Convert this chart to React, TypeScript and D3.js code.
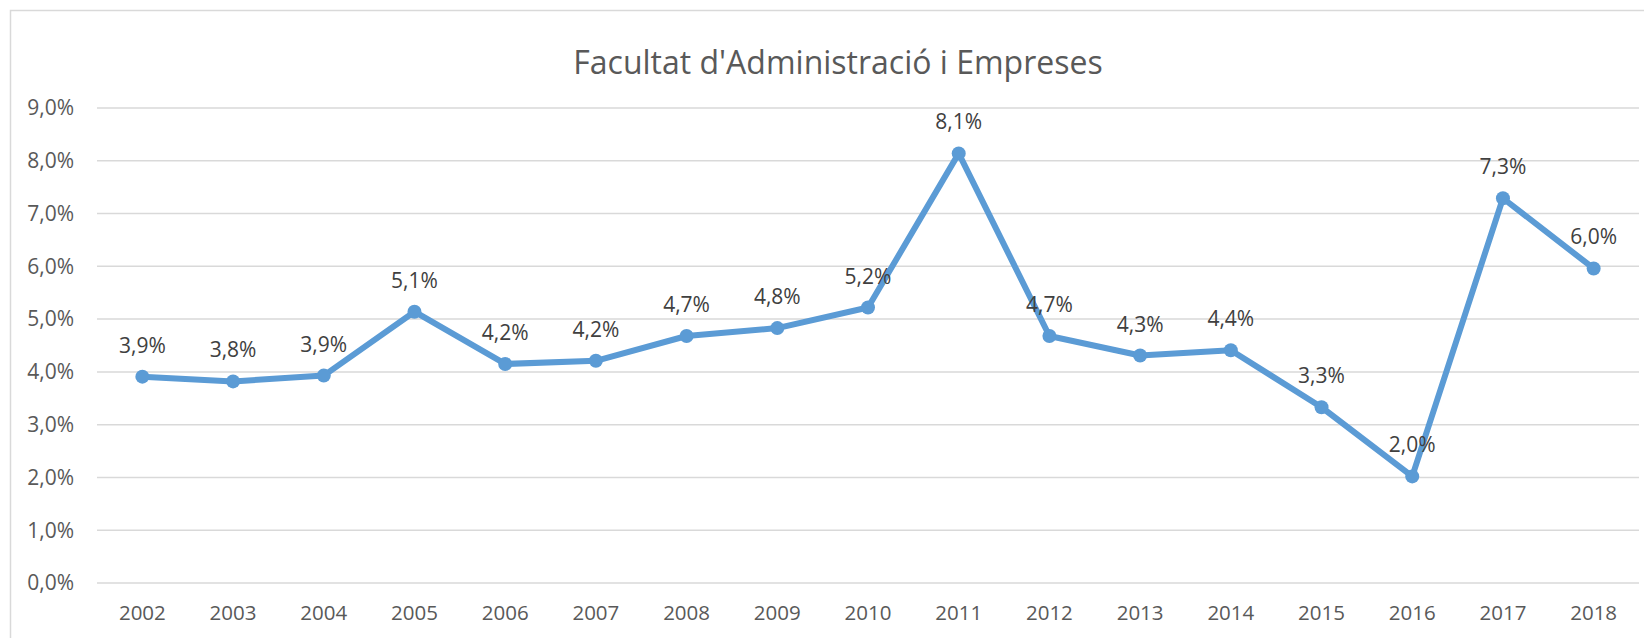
import React from 'react';
import * as d3 from 'd3';

const years = ['2002', '2003', '2004', '2005', '2006', '2007', '2008', '2009', '2010', '2011', '2012', '2013', '2014', '2015', '2016', '2017', '2018'];
const rates = [3.91, 3.82, 3.93, 5.14, 4.15, 4.21, 4.68, 4.83, 5.22, 8.14, 4.68, 4.31, 4.41, 3.33, 2.02, 7.29, 5.96];
const yTicks = [0, 1, 2, 3, 4, 5, 6, 7, 8, 9];
const title = "Facultat d'Administració i Empreses";

const width = 1644;
const height = 638;
const margin = { top: 108, right: 5, bottom: 55, left: 97 };
const font = "'Open Sans', sans-serif";

const fmt = (v: number) => v.toFixed(1).replace('.', ',') + '%';

export default function App() {
  const innerWidth = width - margin.left - margin.right;
  const innerHeight = height - margin.top - margin.bottom;

  const xScale = d3.scaleBand().domain(years).range([0, innerWidth]);
  const yScale = d3.scaleLinear().domain([0, 9]).range([innerHeight, 0]);
  const xPos = (d: string) => (xScale(d) ?? 0) + xScale.bandwidth() / 2;

  const path = d3.line<number>()
    .x((_, i) => xPos(years[i]))
    .y(d => yScale(d))(rates);

  return (
    <svg width={width} height={height} style={{ position: 'absolute', left: 0, top: 0, background: '#fff' }}>
      <path d={`M10.5,${height} V10.5 H${width}`} fill="none" stroke="#d9d9d9" strokeWidth={1.5} />
      <text x={838} y={74} textAnchor="middle" fill="#595959" fontFamily={font} fontSize={32}>
        {title}
      </text>
      <g transform={`translate(${margin.left},${margin.top})`}>
        {yTicks.map(t => (
          <g key={t} transform={`translate(0,${yScale(t)})`}>
            <line x2={innerWidth} stroke="#d9d9d9" strokeWidth={1.5} />
            <text x={-23} dy=".35em" textAnchor="end" fill="#595959" fontFamily={font} fontSize={21}>
              {fmt(t)}
            </text>
          </g>
        ))}
        {years.map(y => (
          <text key={y} x={xPos(y)} y={innerHeight + 37} textAnchor="middle" fill="#595959" fontFamily={font} fontSize={20.5}>
            {y}
          </text>
        ))}
        <path d={path ?? ''} fill="none" stroke="#5b9bd5" strokeWidth={6} strokeLinejoin="round" strokeLinecap="round" />
        {rates.map((v, i) => (
          <g key={years[i]}>
            <circle cx={xPos(years[i])} cy={yScale(v)} r={7} fill="#5b9bd5" />
            <text x={xPos(years[i])} y={yScale(v) - 24} textAnchor="middle" fill="#404040" fontFamily={font} fontSize={21}>
              {fmt(Math.round(v * 10) / 10)}
            </text>
          </g>
        ))}
      </g>
    </svg>
  );
}
